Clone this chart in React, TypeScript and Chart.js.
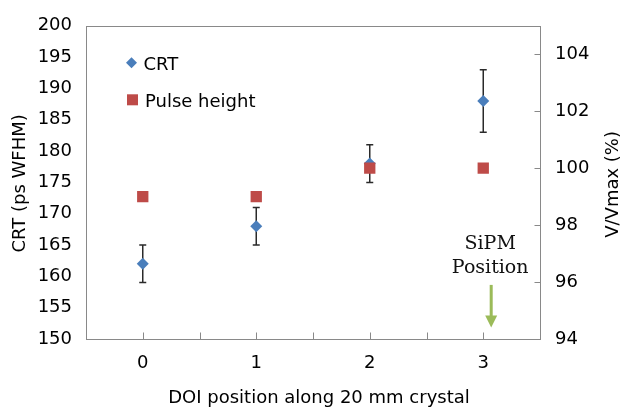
import React, { useEffect, useRef } from 'react';
import { Chart, registerables } from 'chart.js';

Chart.register(...registerables);

// ---- data ----
const positions = [0, 1, 2, 3];
const xTickLabels = ['0', '1', '2', '3'];
const crtValues = [162, 168, 178, 188];
const crtErrLow = [159, 165, 175, 183];
const crtErrHigh = [165, 171, 181, 193];
const pulseHeight = [99, 99, 100, 100];
const rightTicks = [94, 96, 98, 100, 102, 104];
const seriesNames = ['CRT', 'Pulse height'];
const leftTitle = 'CRT (ps WFHM)';
const rightTitle = 'V/Vmax (%)';
const bottomTitle = 'DOI position along 20 mm crystal';
const noteLines = ['SiPM', 'Position'];
const noteX = 3.07; // in x data units
const noteLineY = [97.35, 96.5]; // right-axis units
const arrowFromTo = [95.9, 94.4]; // right-axis units

const BLUE = '#4a7ebb';
const RED = '#be4b48';
const GREEN = '#9bbb59';
const AXIS = '#898989';
const FONT = '"DejaVu Sans"';

const decorPlugin = {
  id: 'decor',
  beforeDatasetsDraw(chart: any) {
    const { ctx, chartArea: a, scales } = chart;
    const x = scales.x;
    const y = scales.y;
    const y1 = scales.y1;
    ctx.save();
    ctx.strokeStyle = AXIS;
    ctx.lineWidth = 1;
    const L = Math.round(a.left) + 0.5;
    const R = Math.round(a.right) + 0.5;
    const T = Math.round(a.top) + 0.5;
    const B = Math.round(a.bottom) + 0.5;
    ctx.strokeRect(L, T, R - L, B - T);
    ctx.beginPath();
    x.ticks.forEach((t: any) => {
      const px = Math.round(x.getPixelForValue(t.value)) + 0.5;
      ctx.moveTo(px, B);
      ctx.lineTo(px, B - 7);
    });
    y1.ticks.forEach((t: any) => {
      const py = Math.round(y1.getPixelForValue(t.value)) + 0.5;
      ctx.moveTo(R, py);
      ctx.lineTo(R - 6, py);
    });
    ctx.stroke();
    // error bars
    ctx.strokeStyle = '#2a2a2a';
    ctx.lineWidth = 1.5;
    ctx.beginPath();
    positions.forEach((p, i) => {
      const px = x.getPixelForValue(p);
      const ph = y.getPixelForValue(crtErrHigh[i]);
      const pl = y.getPixelForValue(crtErrLow[i]);
      ctx.moveTo(px, ph);
      ctx.lineTo(px, pl);
      ctx.moveTo(px - 3.5, ph);
      ctx.lineTo(px + 3.5, ph);
      ctx.moveTo(px - 3.5, pl);
      ctx.lineTo(px + 3.5, pl);
    });
    ctx.stroke();
    ctx.restore();
  },
  afterDraw(chart: any) {
    const { ctx, chartArea: a, scales } = chart;
    const x = scales.x;
    const y1 = scales.y1;
    ctx.save();
    // legend
    ctx.fillStyle = BLUE;
    const lx = a.left + 45.5;
    const ly1 = a.top + 37;
    ctx.beginPath();
    ctx.moveTo(lx - 5.5, ly1);
    ctx.lineTo(lx, ly1 - 5.5);
    ctx.lineTo(lx + 5.5, ly1);
    ctx.lineTo(lx, ly1 + 5.5);
    ctx.closePath();
    ctx.fill();
    ctx.fillStyle = RED;
    const ly2 = a.top + 74;
    ctx.fillRect(lx + 1 - 5.5, ly2 - 5.5, 11, 11);
    ctx.fillStyle = '#000';
    ctx.font = `18px ${FONT}`;
    ctx.textBaseline = 'alphabetic';
    ctx.textAlign = 'left';
    ctx.fillText(seriesNames[0], lx + 12, ly1 + 7.5);
    ctx.fillText(seriesNames[1], lx + 13.5, ly2 + 7.5);
    // titles
    const cy = (a.top + a.bottom) / 2;
    ctx.textAlign = 'center';
    ctx.save();
    ctx.translate(25, cy + 1);
    ctx.rotate(-Math.PI / 2);
    ctx.fillText(leftTitle, 0, 0);
    ctx.restore();
    ctx.save();
    ctx.translate(618, cy + 2);
    ctx.rotate(-Math.PI / 2);
    ctx.fillText(rightTitle, 0, 0);
    ctx.restore();
    ctx.fillText(bottomTitle, (a.left + a.right) / 2 + 6, 403);
    // note
    const nx = x.getPixelForValue(noteX);
    ctx.font = '19px "DejaVu Serif"';
    ctx.fillStyle = '#111';
    ctx.textBaseline = 'middle';
    noteLines.forEach((s, i) => ctx.fillText(s, nx - 1, y1.getPixelForValue(noteLineY[i])));
    // arrow
    const ay0 = y1.getPixelForValue(arrowFromTo[0]);
    const ay1 = y1.getPixelForValue(arrowFromTo[1]);
    ctx.fillStyle = GREEN;
    ctx.fillRect(nx - 1.5, ay0, 3, ay1 - ay0 - 10);
    ctx.beginPath();
    ctx.moveTo(nx - 6, ay1 - 12);
    ctx.lineTo(nx + 6, ay1 - 12);
    ctx.lineTo(nx, ay1);
    ctx.closePath();
    ctx.fill();
    ctx.restore();
  },
};

export default function App() {
  const ref = useRef<HTMLCanvasElement>(null);
  useEffect(() => {
    if (!ref.current) return;
    Chart.defaults.font.family = FONT;
    Chart.defaults.font.size = 18;
    Chart.defaults.color = '#000';
    const chart = new Chart(ref.current, {
      type: 'scatter',
      data: {
        datasets: [
          {
            label: seriesNames[0],
            data: positions.map((p, i) => ({ x: p, y: crtValues[i] })),
            yAxisID: 'y',
            pointStyle: 'rectRot',
            pointRadius: 6,
            pointBackgroundColor: BLUE,
            pointBorderWidth: 0,
            borderColor: BLUE,
            order: 1,
          },
          {
            label: seriesNames[1],
            data: positions.map((p, i) => ({ x: p, y: pulseHeight[i] })),
            yAxisID: 'y1',
            pointStyle: 'rect',
            pointRadius: 8,
            pointBackgroundColor: RED,
            pointBorderWidth: 0,
            borderColor: RED,
            order: 0,
          },
        ],
      },
      options: {
        animation: false,
        responsive: false,
        maintainAspectRatio: false,
        layout: { padding: { top: 16, left: 0, right: 0, bottom: 0 } },
        plugins: { legend: { display: false }, tooltip: { enabled: false } },
        scales: {
          x: {
            type: 'linear',
            min: -0.5,
            max: 3.5,
            grid: { display: false, drawTicks: false },
            border: { display: false },
            ticks: {
              stepSize: 0.5,
              padding: 14,
              maxRotation: 0,
              autoSkip: false,
              callback: (v: any) => {
                const i = positions.indexOf(Number(v));
                return i >= 0 ? xTickLabels[i] : '';
              },
            },
            afterFit: (s: any) => { s.height = 76; },
          },
          y: {
            type: 'linear',
            position: 'left',
            min: 150,
            max: 200,
            grid: { display: false, drawTicks: false },
            border: { display: false },
            ticks: { stepSize: 5, padding: 14 },
            afterFit: (s: any) => { s.width = 86; },
          },
          y1: {
            type: 'linear',
            position: 'right',
            min: 94,
            max: 105,
            grid: { display: false, drawTicks: false },
            border: { display: false },
            ticks: { stepSize: 2, padding: 15 },
            afterBuildTicks: (s: any) => { s.ticks = rightTicks.map((v) => ({ value: v })); },
            afterFit: (s: any) => { s.width = 89; },
          },
        },
      },
      plugins: [decorPlugin],
    });
    return () => chart.destroy();
  }, []);
  return (
    <div style={{ position: 'fixed', left: 0, top: 0, width: 629, height: 415, background: '#fff' }}>
      <canvas ref={ref} width={629} height={415} style={{ width: 629, height: 415 }} />
    </div>
  );
}
